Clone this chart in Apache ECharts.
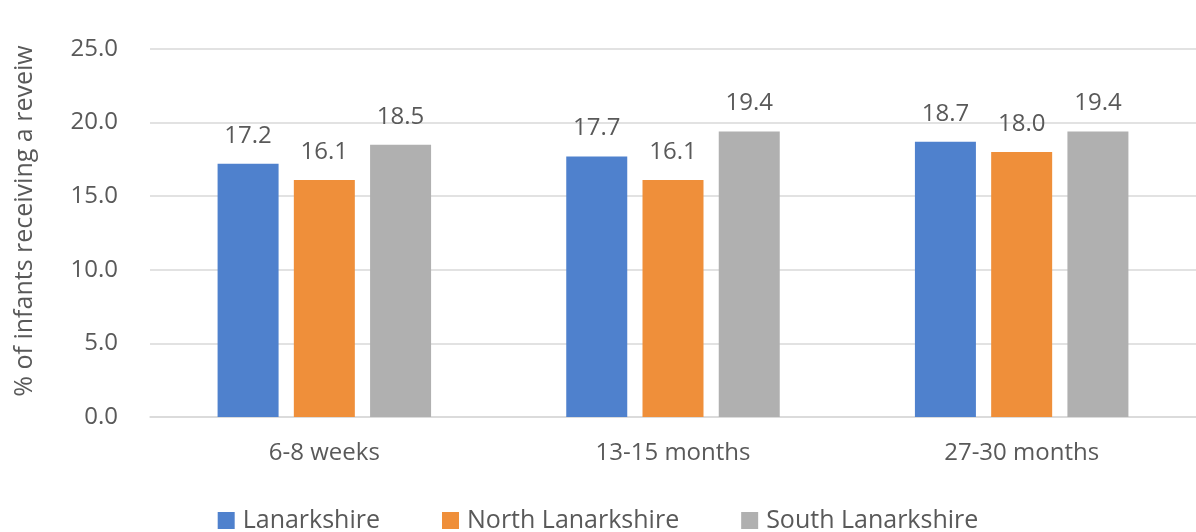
<!DOCTYPE html>
<html><head><meta charset="utf-8">
<script src="https://cdn.jsdelivr.net/npm/echarts@6/dist/echarts.min.js"></script>
<style>html,body{margin:0;padding:0;background:#fff}#c{width:1196px;height:532px}</style>
</head><body><div id="c"></div>
<script>
const categories = ['6-8 weeks', '13-15 months', '27-30 months'];
const lanarkshire = [17.2, 17.7, 18.7];
const northLanarkshire = [16.1, 16.1, 18.0];
const southLanarkshire = [18.5, 19.4, 19.4];
const seriesNames = ['Lanarkshire', 'North Lanarkshire', 'South Lanarkshire'];
const yTicks = { min: 0, max: 25, interval: 5 };

const font = '"Open Sans", "Noto Sans", sans-serif';
const txt = '#595959';
const colors = ['#4f81cd', '#ef8f3a', '#b0b0b0'];
const chart = echarts.init(document.getElementById('c'));
const mk = (name, data, i) => ({
  name, type: 'bar', data, barWidth: 61, barGap: '25%',
  itemStyle: { color: colors[i] },
  label: { show: true, position: 'top', distance: 16, color: txt, fontFamily: font, fontSize: 24,
           formatter: p => p.value.toFixed(1) }
});
chart.setOption({
  animation: false,
  color: colors,
  grid: { left: 150, right: -4, top: 49, bottom: 115, containLabel: false },
  legend: {
    bottom: -6, left: 'center', itemWidth: 17, itemHeight: 17, itemGap: 62, icon: 'rect',
    textStyle: { color: txt, fontFamily: font, fontSize: 25, padding: [0, 0, 0, 3] },
    data: seriesNames
  },
  xAxis: {
    type: 'category', data: categories,
    axisLine: { lineStyle: { color: '#d9d9d9', width: 1.5 } },
    axisTick: { show: false },
    axisLabel: { color: txt, fontFamily: font, fontSize: 24, margin: 24 }
  },
  yAxis: {
    type: 'value', min: yTicks.min, max: yTicks.max, interval: yTicks.interval,
    name: '% of infants receiving a reveiw', nameLocation: 'middle', nameGap: 113, nameRotate: 90,
    nameTextStyle: { color: txt, fontFamily: font, fontSize: 25, padding: [0, 0, 0, 24] },
    axisLine: { show: false }, axisTick: { show: false },
    splitLine: { lineStyle: { color: '#d9d9d9', width: 1.5 } },
    axisLabel: { color: txt, fontFamily: font, fontSize: 24, margin: 32, formatter: v => v.toFixed(1) }
  },
  series: [
    mk(seriesNames[0], lanarkshire, 0),
    mk(seriesNames[1], northLanarkshire, 1),
    mk(seriesNames[2], southLanarkshire, 2)
  ]
});
</script></body></html>
